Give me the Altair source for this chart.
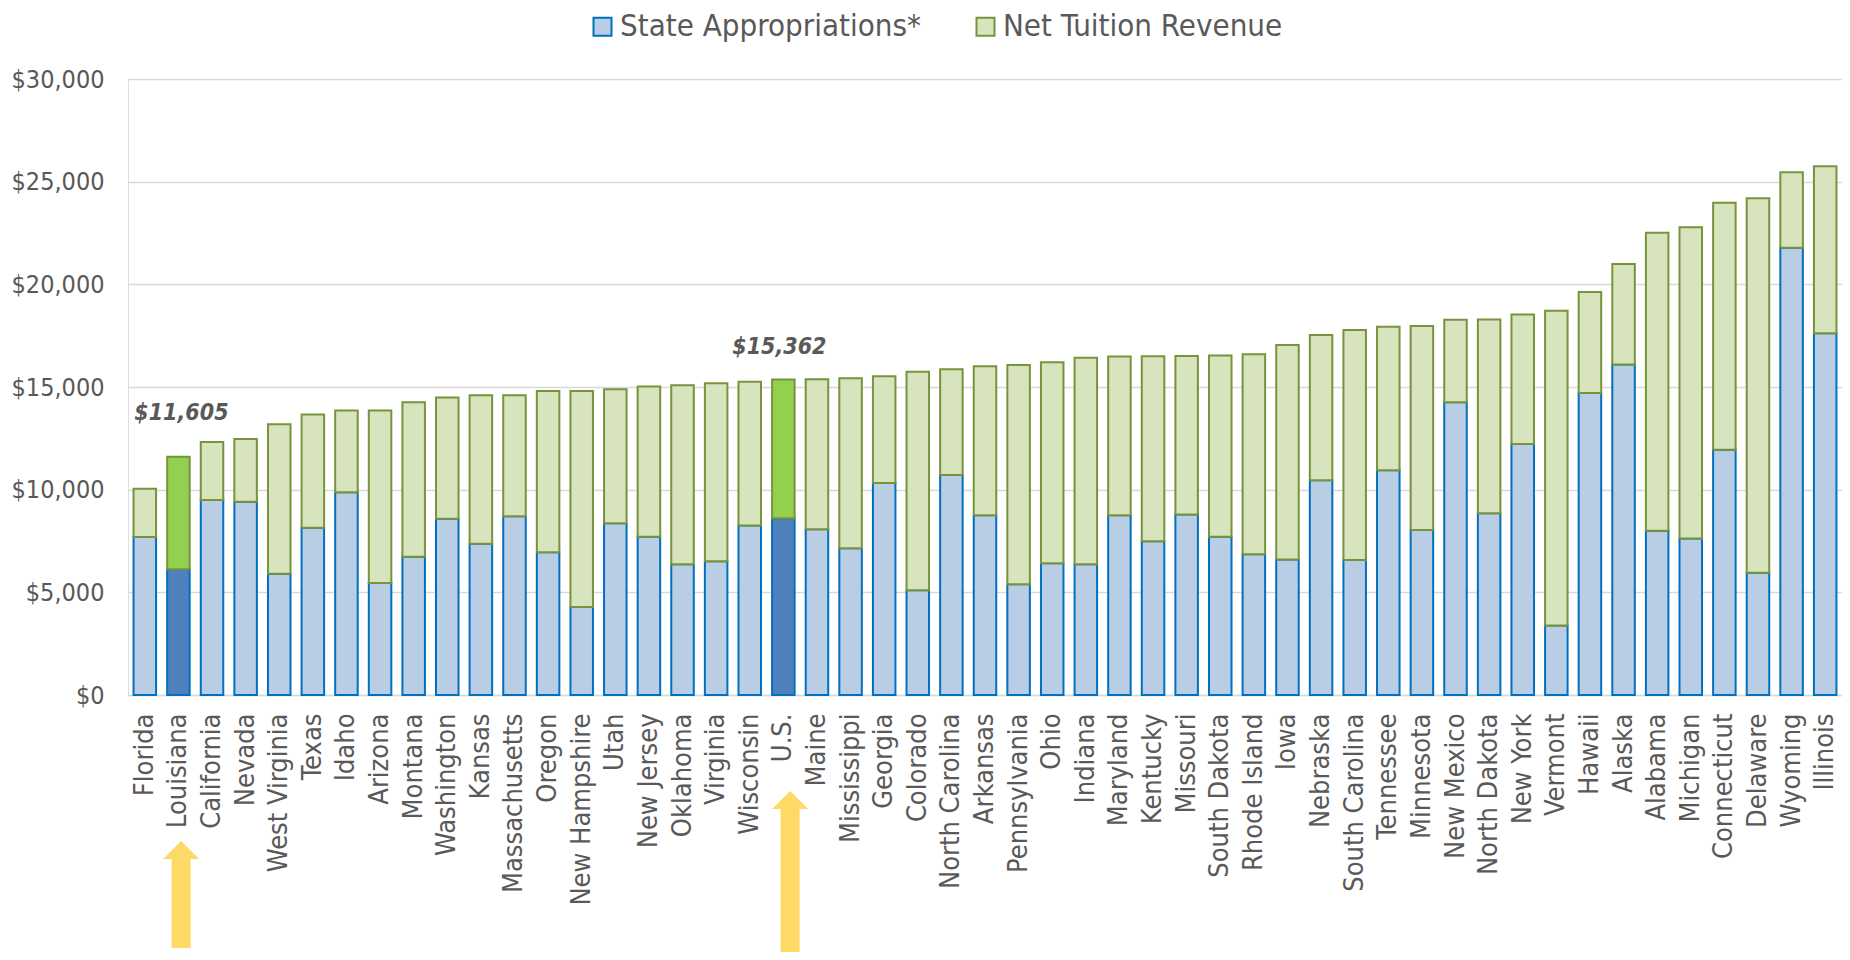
import altair as alt
import pandas as pd

states = ["Florida", "Louisiana", "California", "Nevada", "West Virginia", "Texas", "Idaho",
          "Arizona", "Montana", "Washington", "Kansas", "Massachusetts", "Oregon",
          "New Hampshire", "Utah", "New Jersey", "Oklahoma", "Virginia", "Wisconsin", "U.S.",
          "Maine", "Mississippi", "Georgia", "Colorado", "North Carolina", "Arkansas",
          "Pennsylvania", "Ohio", "Indiana", "Maryland", "Kentucky", "Missouri",
          "South Dakota", "Rhode Island", "Iowa", "Nebraska", "South Carolina", "Tennessee",
          "Minnesota", "New Mexico", "North Dakota", "New York", "Vermont", "Hawaii",
          "Alaska", "Alabama", "Michigan", "Connecticut", "Delaware", "Wyoming", "Illinois"]

appropriations = [7690, 6130, 9500, 9410, 5900, 8140, 9880, 5450, 6730, 8580, 7360, 8700,
                  6950, 4290, 8360, 7710, 6370, 6510, 8250, 8610, 8070, 7150, 10330, 5100,
                  10710, 8760, 5390, 6420, 6370, 8760, 7490, 8790, 7710, 6860, 6600, 10460,
                  6570, 10950, 8030, 14260, 8850, 12230, 3380, 14710, 16100, 8000, 7620,
                  11940, 5950, 21780, 17620]

tuition = [2350, 5475, 2820, 3060, 7290, 5520, 3980, 8410, 7530, 5910, 7240, 5900,
           7850, 10510, 6530, 7310, 8720, 8670, 7000, 6752, 7310, 8280, 5190, 10640,
           5160, 7250, 10680, 9790, 10060, 7720, 9010, 7720, 8830, 9730, 10440, 7070,
           11200, 6980, 9940, 4010, 9440, 6300, 15330, 4920, 4890, 14510, 15160,
           12030, 18240, 3680, 8130]

highlighted = ["Louisiana", "U.S."]
y_ticks = [0, 5000, 10000, 15000, 20000, 25000, 30000]

SA = "State Appropriations*"
NT = "Net Tuition Revenue"
SA_H = "State Appropriations* (highlight)"
NT_H = "Net Tuition Revenue (highlight)"

rows = []
for s, a, t in zip(states, appropriations, tuition):
    hl = s in highlighted
    rows.append({"state": s, "key": SA_H if hl else SA, "value": a, "ord": 0, "total": a + t})
    rows.append({"state": s, "key": NT_H if hl else NT, "value": t, "ord": 1, "total": a + t})
df = pd.DataFrame(rows)

FONT = "DejaVu Sans Condensed, DejaVu Sans, sans-serif"
GRAY = "#595959"

x_enc = alt.X("state:N", sort=states,
              scale=alt.Scale(paddingInner=0.33, paddingOuter=0.165),
              axis=alt.Axis(title=None, labelAngle=-90, labelFontSize=27, labelColor=GRAY,
                            labelFont=FONT, ticks=False, domainColor="#D9D9D9",
                            domainWidth=1.5, labelPadding=18, grid=False, labelOverlap=False,
                            labelLimit=400))

legend_kw = dict(values=[SA, NT], title=None, orient="none", direction="horizontal",
                 legendX=459, legendY=-68, labelFontSize=31, labelColor=GRAY,
                 labelFont=FONT, symbolType="square", symbolSize=324,
                 symbolStrokeWidth=2, labelOffset=2, columnPadding=49, labelLimit=600)

bars = alt.Chart(df).mark_bar(strokeWidth=2).encode(
    x=x_enc,
    y=alt.Y("value:Q", stack="zero",
            scale=alt.Scale(domain=[0, 30000], nice=False),
            axis=alt.Axis(title=None, values=y_ticks, format="$,.0f", labelFontSize=25,
                          labelColor=GRAY, labelFont=FONT, ticks=False, domain=False,
                          gridColor="#D9D9D9", gridWidth=1.5, labelPadding=24)),
    fill=alt.Fill("key:N",
                  scale=alt.Scale(domain=[SA, NT, SA_H, NT_H],
                                  range=["#B9CDE5", "#D7E4BD", "#4F81BD", "#92D050"]),
                  legend=alt.Legend(**legend_kw)),
    stroke=alt.Stroke("key:N",
                      scale=alt.Scale(domain=[SA, NT, SA_H, NT_H],
                                      range=["#0070C0", "#77933C", "#0070C0", "#77933C"]),
                      legend=alt.Legend(**legend_kw)),
    order=alt.Order("ord:Q"),
)

ann_base = alt.Chart(df).transform_filter(alt.datum.ord == 0).transform_calculate(
    label="format(datum.total, '$,.0f')")

ann_la = ann_base.transform_filter(alt.datum.state == "Louisiana").mark_text(
    fontSize=23, fontWeight="bold", fontStyle="italic", font=FONT, color=GRAY,
    dy=-44, dx=3, baseline="middle").encode(
    x=alt.X("state:N", sort=states), y=alt.Y("total:Q"), text="label:N")

ann_us = ann_base.transform_filter(alt.datum.state == "U.S.").mark_text(
    fontSize=23, fontWeight="bold", fontStyle="italic", font=FONT, color=GRAY,
    dy=-33, dx=-4, baseline="middle").encode(
    x=alt.X("state:N", sort=states), y=alt.Y("total:Q"), text="label:N")

arrow_base = alt.Chart(df).transform_filter(alt.datum.ord == 0)
ARROW = "#FFD966"
HEAD = "M -1 0 L 0 -1 L 1 0 Z"

la_shaft = arrow_base.transform_filter(alt.datum.state == "Louisiana").mark_rule(
    color=ARROW, strokeWidth=19, strokeCap="butt").encode(
    x=alt.X("state:N", sort=states), y=alt.value(778), y2=alt.value(869),
    xOffset=alt.value(14))
la_head = arrow_base.transform_filter(alt.datum.state == "Louisiana").mark_point(
    shape=HEAD, filled=True, color=ARROW, opacity=1, size=1296, strokeWidth=0).encode(
    x=alt.X("state:N", sort=states), y=alt.value(780), xOffset=alt.value(14))

us_shaft = arrow_base.transform_filter(alt.datum.state == "U.S.").mark_rule(
    color=ARROW, strokeWidth=19, strokeCap="butt").encode(
    x=alt.X("state:N", sort=states), y=alt.value(728), y2=alt.value(900),
    xOffset=alt.value(18))
us_head = arrow_base.transform_filter(alt.datum.state == "U.S.").mark_point(
    shape=HEAD, filled=True, color=ARROW, opacity=1, size=1296, strokeWidth=0).encode(
    x=alt.X("state:N", sort=states), y=alt.value(730), xOffset=alt.value(18))

chart = alt.layer(bars, ann_la, ann_us, la_shaft, la_head, us_shaft, us_head).properties(
    width=1714, height=616,
    autosize=alt.AutoSizeParams(type="none"),
    padding={"left": 120, "top": 71, "right": 0, "bottom": 257},
).configure_view(stroke=None).configure(background="white")

chart.save("out.html", embed_options={"renderer": "svg", "actions": False})
